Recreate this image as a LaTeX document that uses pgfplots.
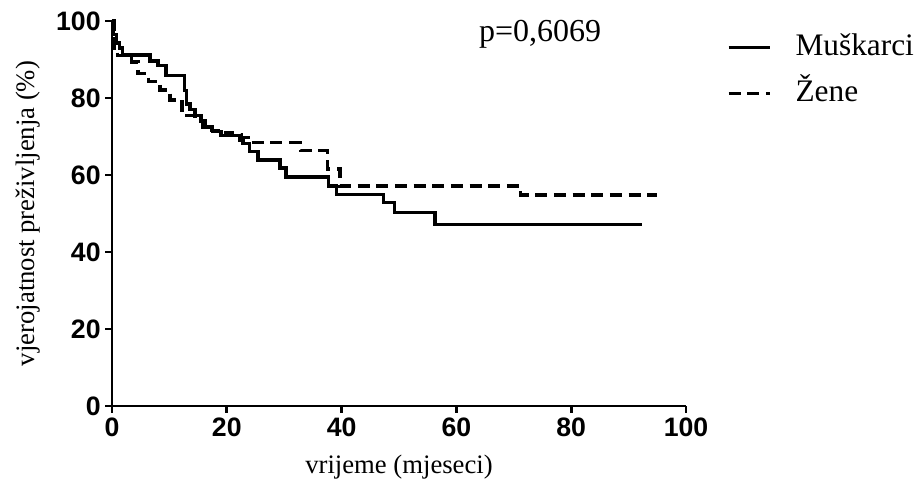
\documentclass[border=0pt]{standalone}
\usepackage{pgfplots}
\pgfplotsset{compat=1.18}
\usepackage{fontspec}
\setmainfont{Liberation Serif}
\setsansfont{Liberation Sans}

% Kaplan-Meier steps: (time of drop, new survival %)
\pgfplotstableread{
t    s
0    100
0.3  96.5
0.8  94.3
1.3  93.0
1.8  91.2
6.6  89.6
8.0  88.5
9.4  85.8
12.6 82.0
13.0 78.5
13.6 77.0
14.5 75.5
15.5 74.0
16.3 72.5
17.5 71.3
19.0 70.2
22.2 69.0
22.8 68.2
24.0 66.1
25.4 63.9
29.3 61.8
30.3 59.5
37.7 57.2
39.1 55.0
47.3 52.8
49.2 50.3
56.3 47.1
92.3 47.1
}\muski

\pgfplotstableread{
t    s
0    100
0.4  93.0
1.0  91.0
3.4  89.3
4.5  86.4
6.4  84.3
8.4  82.1
10.1 79.5
12.2 76.9
13.0 75.5
14.5 74.0
15.8 72.3
17.3 71.6
19.0 71.0
21.0 70.4
22.5 69.8
24.3 68.4
32.8 66.3
37.5 61.5
39.7 57.1
71.2 54.8
94.9 54.8
}\zene

\begin{document}
\begin{tikzpicture}
\begin{axis}[
  width=430.5pt, height=288.75pt, scale only axis,
  xmin=0, xmax=100, ymin=0, ymax=100,
  axis lines*=left,
  axis line style={line width=2.2pt},
  xtick={0,20,...,100}, ytick={0,20,...,100},
  tick align=outside, major tick length=5pt,
  tick style={line width=2.2pt, black},
  tick label style={font=\sffamily\bfseries\fontsize{20}{23}\selectfont},
  /pgf/number format/assume math mode=true,
  xlabel={vrijeme (mjeseci)},
  ylabel={vjerojatnost preživljenja (\%)},
  xlabel style={font=\fontsize{20}{24}\selectfont, at={(axis description cs:0.5,-0.158)}, anchor=center},
  ylabel style={font=\fontsize{20}{24}\selectfont, at={(axis description cs:-0.146,0.5)}, anchor=center},
  clip=false,
  legend style={draw=none, fill=none, at={(axis description cs:1.071,0.971)}, anchor=north west,
    inner sep=0pt, font=\fontsize{23.5}{28}\selectfont, row sep=13pt, column sep=0pt,
    nodes={inner xsep=0pt, inner ysep=0pt, text height=17pt, text depth=5pt}},
  legend cell align=left,
  legend image code/.code={\draw[#1] (0pt,0pt) -- (31pt,0pt);},
  legend image post style={line width=2.4pt},
]
\addplot[const plot, black, line width=2.6pt] table[x=t, y=s] {\muski};
\addlegendentry{\hspace{18pt}Muškarci}
\addplot[const plot, black, line width=2.6pt, dash pattern=on 9pt off 5pt] table[x=t, y=s] {\zene};
\addlegendentry{\hspace{18pt}Žene}
\node[font=\fontsize{24}{28}\selectfont] at (axis cs:74.6,96.6) {p=0,6069};
\end{axis}
\pgfresetboundingbox
\path (current axis.south west) ++(-84pt,-66pt) rectangle ++(687.75pt,370.5pt);
\end{tikzpicture}
\end{document}
